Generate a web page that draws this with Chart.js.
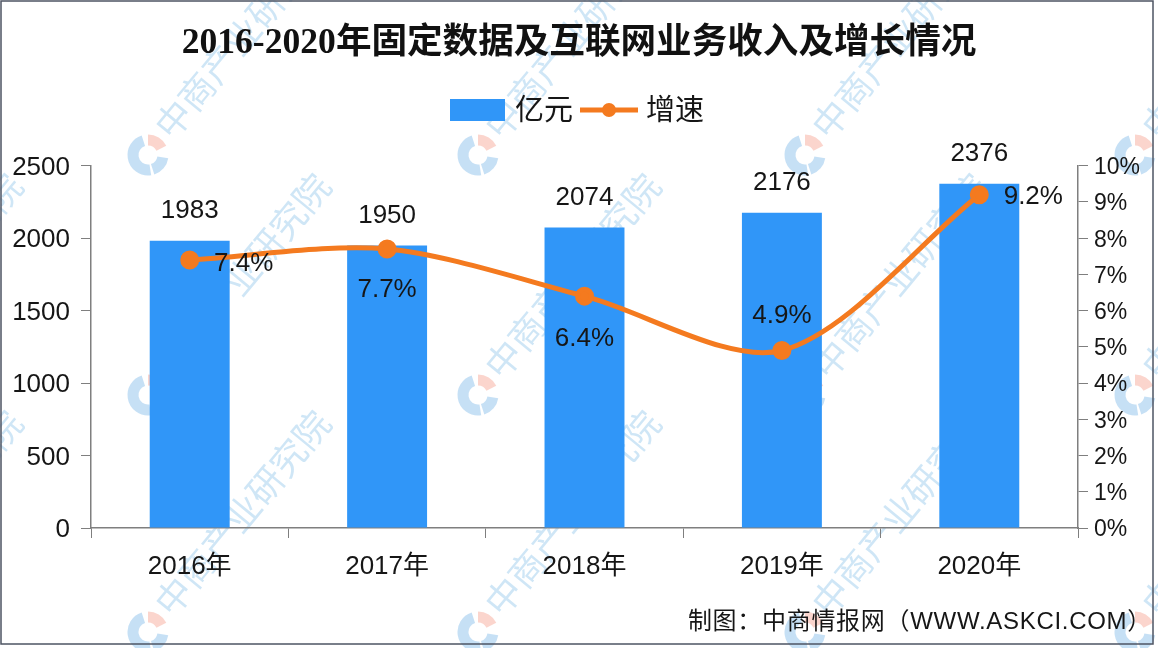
<!DOCTYPE html>
<html>
<head>
<meta charset="utf-8">
<title>2016-2020年固定数据及互联网业务收入及增长情况</title>
<script src="https://cdn.jsdelivr.net/npm/chart.js@4"></script>
<style>
    html, body { margin: 0; background: #fff; }
    canvas { display: block; }
</style>
</head>
<body>
<canvas id="revenueChart" width="1158" height="648"></canvas>
<script>
const chartTitle = '2016-2020年固定数据及互联网业务收入及增长情况'
const sourceText = '制图：中商情报网（WWW.ASKCI.COM）'
const watermarkText = '中商产业研究院'

const years = ['2016年', '2017年', '2018年', '2019年', '2020年']
const revenue = [1983, 1950, 2074, 2176, 2376]
const growth = [7.4, 7.7, 6.4, 4.9, 9.2]

const barName = '亿元'
const lineName = '增速'
const barColor = '#3096f8'
const lineColor = '#f47a1f'
const axisColor = '#7f7f7f'
const textColor = '#161616'
const numFont = '"Liberation Sans", "Noto Sans CJK SC", sans-serif'
const cjkFont = '"Liberation Sans", "Noto Sans CJK SC", sans-serif'

// where each growth label sits relative to its point
const growthLabelOffsets = [[54, 4], [0, 41], [0, 43], [0, -35], [54, 2]]

// background watermark logos, the text runs up and to the right of each
const watermarkLogos = [
    [-160, 395], [-160, 632],
    [148, 155], [478, 155], [805, 155], [1135, 155],
    [148, 395], [478, 395], [805, 395], [1135, 395],
    [148, 632], [478, 632], [805, 632], [1135, 632]
]

function drawLogo(ctx, x, y) {
    ctx.lineWidth = 11
    ctx.strokeStyle = 'rgba(120, 182, 230, 0.42)'
    ctx.beginPath()
    ctx.arc(x, y, 15, Math.PI * 0.45, Math.PI * 1.4)
    ctx.stroke()
    ctx.beginPath()
    ctx.arc(x, y, 15, Math.PI * 0.05, Math.PI * 0.4)
    ctx.stroke()
    ctx.strokeStyle = 'rgba(244, 150, 130, 0.4)'
    ctx.beginPath()
    ctx.arc(x, y, 15, Math.PI * 1.5, Math.PI * 1.85)
    ctx.stroke()
}

const watermarkPlugin = {
    id: 'watermark',
    beforeDraw(chart) {
        const ctx = chart.ctx
        ctx.save()
        ctx.fillStyle = '#fff'
        ctx.fillRect(0, 0, chart.width, chart.height)
        watermarkLogos.forEach(([x, y]) => {
            drawLogo(ctx, x, y)
            ctx.save()
            ctx.translate(x + 14, y - 22)
            ctx.rotate(-Math.PI * 0.28)
            ctx.font = '36px "Noto Sans CJK SC"'
            ctx.fillStyle = 'rgba(130, 188, 232, 0.38)'
            ctx.textBaseline = 'middle'
            ctx.fillText(watermarkText, 0, 0)
            ctx.restore()
        })
        ctx.restore()
    }
}

const annotationPlugin = {
    id: 'annotations',
    afterDatasetsDraw(chart) {
        const ctx = chart.ctx
        const x = chart.scales.x
        const y = chart.scales.y
        const y1 = chart.scales.y1

        ctx.save()
        ctx.fillStyle = textColor
        ctx.textAlign = 'center'
        ctx.textBaseline = 'middle'
        ctx.font = '26px ' + numFont
        revenue.forEach((v, i) => {
            ctx.fillText(String(v), x.getPixelForValue(i), y.getPixelForValue(v) - 30)
        })
        growth.forEach((v, i) => {
            const [dx, dy] = growthLabelOffsets[i]
            ctx.fillText(v.toFixed(1) + '%', x.getPixelForValue(i) + dx, y1.getPixelForValue(v) + dy)
        })
        ctx.restore()
    },
    afterDraw(chart) {
        const ctx = chart.ctx
        ctx.save()

        // legend
        ctx.fillStyle = barColor
        ctx.fillRect(450, 99, 55, 22)
        ctx.strokeStyle = lineColor
        ctx.lineWidth = 5
        ctx.beginPath()
        ctx.moveTo(580, 110)
        ctx.lineTo(638, 110)
        ctx.stroke()
        ctx.fillStyle = lineColor
        ctx.beginPath()
        ctx.arc(609, 110, 7, 0, Math.PI * 2)
        ctx.fill()

        ctx.fillStyle = textColor
        ctx.textAlign = 'left'
        ctx.textBaseline = 'middle'
        ctx.font = '29px ' + cjkFont
        ctx.fillText(barName, 515, 112)
        ctx.fillText(lineName, 646, 112)

        // source line
        ctx.font = '24px ' + cjkFont
        ctx.letterSpacing = '0.7px'
        ctx.textAlign = 'right'
        ctx.fillText(sourceText, 1152, 622)
        ctx.letterSpacing = '0px'

        // picture frame
        ctx.strokeStyle = '#4d5463'
        ctx.lineWidth = 1.5
        ctx.strokeRect(1, 1, 1152, 643)
        ctx.restore()
    }
}

new Chart(document.getElementById('revenueChart'), {
    type: 'bar',
    data: {
        labels: years,
        datasets: [
            {
                type: 'line',
                label: lineName,
                data: growth,
                yAxisID: 'y1',
                order: 0,
                borderColor: lineColor,
                backgroundColor: lineColor,
                borderWidth: 5,
                pointRadius: 7,
                pointHoverRadius: 7,
                tension: 0.3
            },
            {
                label: barName,
                data: revenue,
                yAxisID: 'y',
                order: 1,
                backgroundColor: barColor,
                barPercentage: 0.405,
                categoryPercentage: 1
            }
        ]
    },
    options: {
        responsive: false,
        animation: false,
        devicePixelRatio: 1,
        layout: { padding: 0 },
        plugins: {
            legend: { display: false },
            tooltip: { enabled: false },
            title: {
                display: true,
                text: chartTitle,
                color: '#111',
                font: { family: '"Liberation Serif", "Noto Sans CJK SC", serif', size: 35.6, weight: 'bold' },
                padding: { top: 22, bottom: 101 }
            }
        },
        scales: {
            x: {
                afterFit(scale) { scale.height = 120 },
                grid: { offset: true, drawOnChartArea: false, color: axisColor, tickLength: 10 },
                border: { color: axisColor, width: 1.5 },
                ticks: { color: textColor, padding: 13, maxRotation: 0, font: { family: cjkFont, size: 26 } }
            },
            y: {
                position: 'left',
                min: 0,
                max: 2500,
                afterFit(scale) { scale.width = 91 },
                grid: { drawOnChartArea: false, color: axisColor, tickLength: 10 },
                border: { color: axisColor, width: 1.5 },
                ticks: {
                    stepSize: 500,
                    color: textColor,
                    padding: 11,
                    labelOffset: 2,
                    font: { family: numFont, size: 26 },
                    callback: v => String(v)
                }
            },
            y1: {
                position: 'right',
                min: 0,
                max: 10,
                afterFit(scale) { scale.width = 80 },
                grid: { drawOnChartArea: false, color: axisColor, tickLength: 10 },
                border: { color: axisColor, width: 1.5 },
                ticks: {
                    stepSize: 1,
                    color: textColor,
                    padding: 6,
                    labelOffset: 2,
                    font: { family: numFont, size: 23 },
                    callback: v => v + '%'
                }
            }
        }
    },
    plugins: [watermarkPlugin, annotationPlugin]
})
</script>
</body>
</html>
